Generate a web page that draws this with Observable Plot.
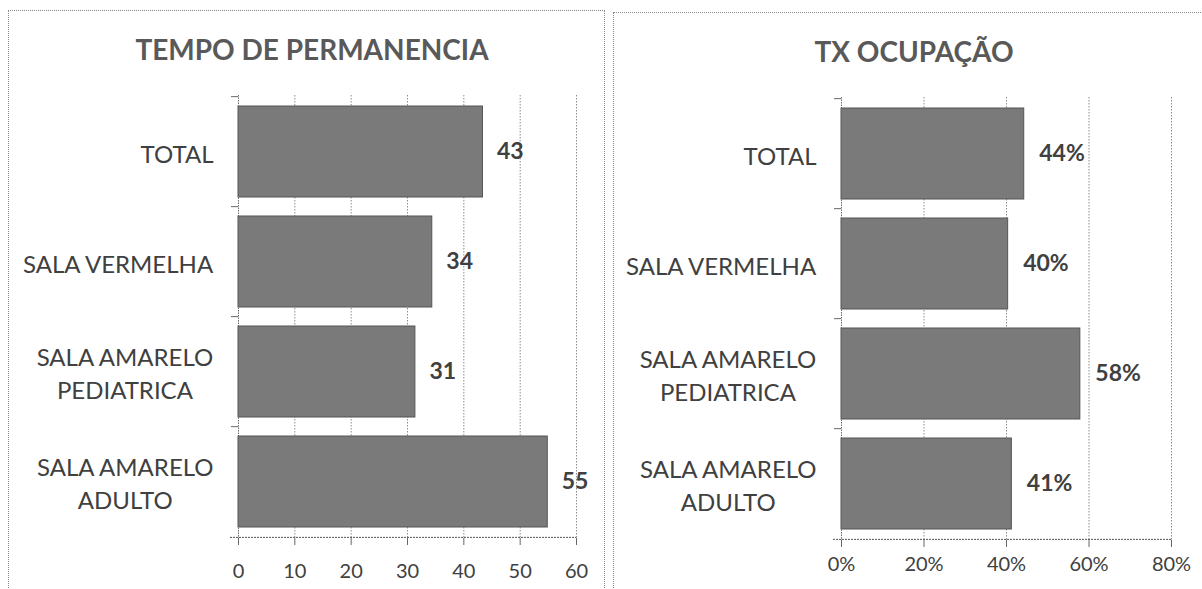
<!DOCTYPE html>
<html><head><meta charset="utf-8">
<script src="https://cdn.jsdelivr.net/npm/d3@7"></script>
<script src="https://cdn.jsdelivr.net/npm/@observablehq/plot@0.6"></script>
<style>
body{margin:0;background:#fff;}
#wrap{position:relative;width:1202px;height:589px;overflow:hidden;font-family:Lato,sans-serif;}
.frame{position:absolute;border:1px dotted #8a8a8a;}
.title{position:absolute;font:bold 28px/28px Lato,sans-serif;color:#595959;text-align:center;}
.chart{position:absolute;top:0;}
.chart svg{overflow:visible;}
</style></head><body>
<div id="wrap">
  <div class="frame" style="left:8px;top:10px;width:595px;height:640px"></div>
  <div class="frame" style="left:613px;top:12px;width:640px;height:640px"></div>
  <div id="c1" class="chart" style="left:0"></div>
  <div id="c2" class="chart" style="left:604px"></div>
  <div class="title" style="left:0;width:624px;top:35px">TEMPO DE PERMANENCIA</div>
  <div class="title" style="left:604px;width:620px;top:37px">TX OCUPAÇÃO</div>
</div>
<script>
const categories = ["TOTAL", "SALA VERMELHA", "SALA AMARELO\nPEDIATRICA", "SALA AMARELO\nADULTO"];
const tempoValues = [43.4, 34.4, 31.4, 54.9];
const ocupacaoValues = [0.443, 0.404, 0.579, 0.413];
const tempoTicks = [0, 10, 20, 30, 40, 50, 60];
const ocupacaoTicks = [0, 0.2, 0.4, 0.6, 0.8];

function barChart(el, o) {
  const data = categories.map((c, i) => ({cat: c, value: o.values[i]}));
  const step = (o.height - o.mT - o.mB) / categories.length;
  const xmax = o.ticks[o.ticks.length - 1];
  const plot = Plot.plot({
    width: o.width, height: o.height,
    marginLeft: o.mL, marginRight: o.mR, marginTop: o.mT, marginBottom: o.mB,
    style: {fontFamily: "Lato, sans-serif", color: "#404040", background: "transparent", overflow: "visible"},
    x: {domain: [0, xmax], axis: null},
    y: {domain: categories, paddingInner: 0.17, paddingOuter: 0.085, axis: null},
    marks: [
      Plot.gridX(o.ticks.slice(1), {stroke: "#8c8c8c", strokeOpacity: 1, strokeDasharray: "1.5,1.5"}),
      Plot.barX(data, {x: "value", y: "cat", fill: "#7a7a7a", stroke: "#555", strokeWidth: 1}),
      Plot.ruleX([0], {stroke: "#6a6a6a", strokeDasharray: "1.5,1"}),
      Plot.ruleY(data, {y: "cat", x1: 0, x2: 0, insetLeft: -7, dy: -step / 2, stroke: "#6a6a6a"}),
      Plot.ruleY([categories[categories.length - 1]], {y: d => d, x1: 0, x2: xmax, insetLeft: -8, dy: step / 2, stroke: "#555", strokeDasharray: "2,1"}),
      Plot.axisX({ticks: o.ticks, tickFormat: o.tickFmt, tickSize: 7, tickPadding: o.tickPad, fontSize: 20, stroke: "#666", label: null}),
      Plot.axisY({tickSize: 0, tickPadding: 25, fontSize: 24, lineHeight: 1.38, label: null}),
      Plot.text(data, {x: "value", y: "cat", text: d => o.labelFmt(d.value), dx: o.labelDx, textAnchor: "start", fontWeight: "bold", fontSize: 23, fill: "#404040"})
    ]
  });
  el.appendChild(plot);
  // center multi-line category labels within their right-aligned block
  plot.querySelectorAll('g[aria-label="y-axis tick label"] text').forEach(t => {
    const w = t.getBBox().width;
    t.setAttribute("text-anchor", "middle");
    const tr = t.getAttribute("transform") || "";
    t.setAttribute("transform", tr + ` translate(${-w / 2},0)`);
  });
}

barChart(document.getElementById("c1"), {
  values: tempoValues, ticks: tempoTicks, tickFmt: d3.format("d"), labelFmt: d3.format(".0f"),
  width: 604, height: 589, mL: 238, mR: 28, mT: 95, mB: 51, tickPad: 18, labelDx: 14
});
barChart(document.getElementById("c2"), {
  values: ocupacaoValues, ticks: ocupacaoTicks, tickFmt: d3.format(".0%"), labelFmt: d3.format(".0%"),
  width: 598, height: 589, mL: 237, mR: 31, mT: 97, mB: 49, tickPad: 9, labelDx: 15
});
</script>
</body></html>
